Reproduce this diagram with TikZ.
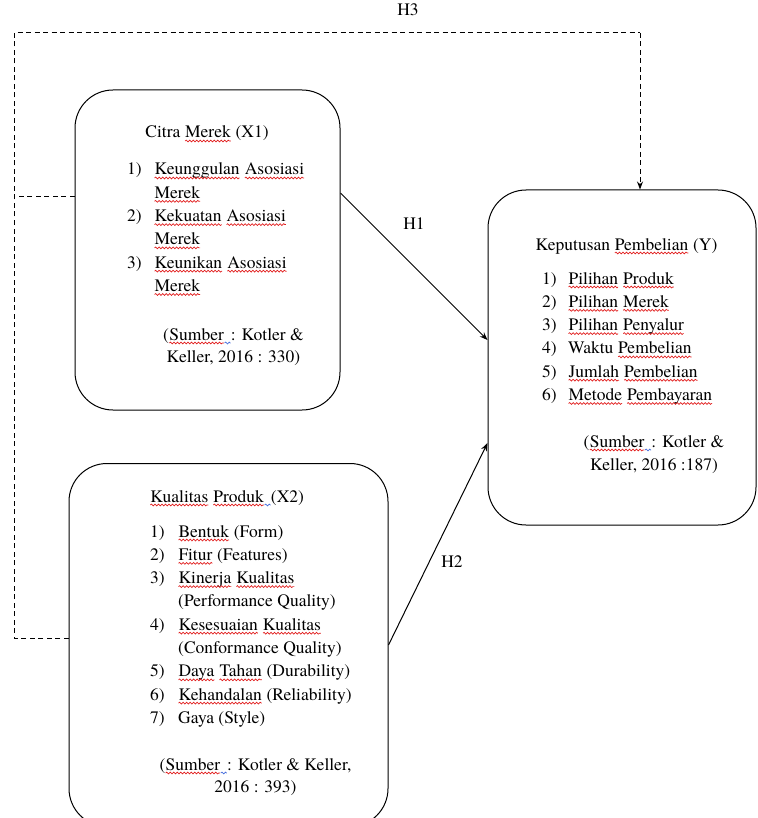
\documentclass[tikz,border=0pt]{standalone}
\usepackage{fontspec}
\setmainfont{texgyretermes}[Extension=.otf, UprightFont=*-regular, BoldFont=*-bold, ItalicFont=*-italic, BoldItalicFont=*-bolditalic]
\usetikzlibrary{arrows.meta,decorations.pathmorphing}
\definecolor{wred}{RGB}{225,30,30}
\definecolor{wblue}{RGB}{70,110,220}
\tikzset{
  box/.style={draw, line width=1pt, rounded corners=38pt, inner sep=0pt},
  txt/.style={inner sep=0pt, font=\fontsize{17.5}{23.3}\selectfont},
  lbl/.style={inner sep=0pt, font=\fontsize{17.5}{21}\selectfont},
  arr/.style={line width=1pt, -{Stealth[length=8pt,width=6pt]}},
  dsh/.style={line width=1pt, dash pattern=on 5pt off 3.5pt},
  wave/.style={line width=0.7pt, decorate, decoration={snake, amplitude=0.9pt, segment length=3.5pt}},
}
\newcommand\wv[2]{\tikz[baseline=(w.base)]{\node[inner sep=0pt, outer sep=0pt] (w) {#2}; \draw[wave, #1] ([yshift=-3pt]w.base west) -- ([yshift=-3pt]w.base east);}}
\newcommand\rw[1]{\wv{wred}{#1}}
\newcommand\bw{\wv{wblue}{\hbox to 6pt{\hss}}}
\begin{document}
\begin{tikzpicture}[x=1pt,y=-1pt]
\useasboundingbox (0,0) rectangle (757,818);
% boxes
\node[box, minimum width=265pt, minimum height=320pt] (x1) at (207.5,250) {};
\node[box, minimum width=268pt, minimum height=335pt] (y) at (622,357.5) {};
\node[box, minimum width=319pt, minimum height=363pt] (x2) at (228.5,645) {};
% X1 text
\node[txt, anchor=base] (x1t) at (207,138) {Citra \rw{Merek} (X1)};
\node[txt, anchor=base west] (x1l) at (127,175) {\begin{tabular}[t]{@{}p{27pt}@{}l@{}}
1) & \rw{Keunggulan} \rw{Asosiasi}\\
   & \rw{Merek}\\
2) & \rw{Kekuatan} \rw{Asosiasi}\\
   & \rw{Merek}\\
3) & \rw{Keunikan} \rw{Asosiasi}\\
   & \rw{Merek}
\end{tabular}};
\node[txt, anchor=base] (x1s) at (233.5,340) {\begin{tabular}[t]{@{}c@{}}
(\rw{Sumber}\bw: Kotler \&\\[-1.3pt]
Keller, 2016 : 330)
\end{tabular}};
% Y text
\node[txt, anchor=base] (yt) at (626.5,250) {Keputusan \rw{Pembelian} (Y)};
\node[txt, anchor=base west] (yl) at (542,284) {\begin{tabular}[t]{@{}p{26pt}@{}l@{}}
1) & \rw{Pilihan} \rw{Produk}\\
2) & \rw{Pilihan} \rw{Merek}\\
3) & \rw{Pilihan} \rw{Penyalur}\\
4) & Waktu \rw{Pembelian}\\
5) & \rw{Jumlah} \rw{Pembelian}\\
6) & \rw{Metode} \rw{Pembayaran}
\end{tabular}};
\node[txt, anchor=base] (ys) at (654,447) {\begin{tabular}[t]{@{}c@{}}
(\rw{Sumber}\bw: Kotler \&\\
Keller, 2016 :187)
\end{tabular}};
% X2 text
\node[txt, anchor=base] (x2t) at (227,502) {\rw{Kualitas} \rw{Produk}\bw(X2)};
\node[txt, anchor=base west] (x2l) at (150,537) {\begin{tabular}[t]{@{}p{28pt}@{}l@{}}
1) & \rw{Bentuk} (Form)\\
2) & \rw{Fitur} (Features)\\
3) & \rw{Kinerja} \rw{Kualitas}\\
   & (Performance Quality)\\
4) & \rw{Kesesuaian} \rw{Kualitas}\\
   & (Conformance Quality)\\
5) & \rw{Daya} \rw{Tahan} (Durability)\\
6) & \rw{Kehandalan} (Reliability)\\
7) & Gaya (Style)
\end{tabular}};
\node[txt, anchor=base] (x2s) at (255.5,770) {\begin{tabular}[t]{@{}c@{}}
(\rw{Sumber}\bw: Kotler \& Keller,\\[-1.3pt]
2016 : 393)
\end{tabular}};
% labels
\node[lbl] (h1) at (414,224) {H1};
\node[lbl] (h2) at (452,562) {H2};
\node[lbl] (h3) at (408,10) {H3};
% connectors
\draw[arr] ([yshift=57pt]x1.east) -- ([yshift=17.5pt]y.west);
\draw[arr] (x2.east) -- ([yshift=-85.5pt]y.west);
\coordinate (tl) at (14,33);
\coordinate (tr) at (640,33);
\coordinate (ml) at (14,197);
\coordinate (bl) at (14,638);
\draw[dsh] ([yshift=7pt]x2.west) -- (bl) -- (tl) -- (tr);
\draw[dsh, -{Stealth[length=8pt,width=6pt]}] (tr) -- (tr |- y.north);
\draw[dsh] ([yshift=53pt]x1.west) -- (ml);
\end{tikzpicture}
\end{document}
